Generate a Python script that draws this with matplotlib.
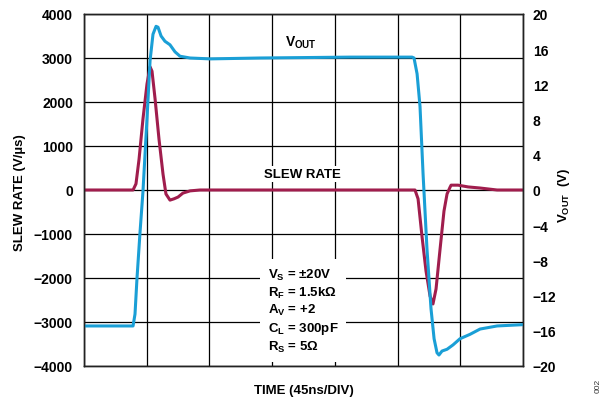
import matplotlib
matplotlib.use('Agg')
import matplotlib.pyplot as plt

plt.rcParams['font.family'] = ['Liberation Sans', 'DejaVu Sans']
plt.rcParams['font.weight'] = 'bold'
plt.rcParams['mathtext.fontset'] = 'custom'
plt.rcParams['mathtext.rm'] = 'Liberation Sans:bold'
plt.rcParams['mathtext.bf'] = 'Liberation Sans:bold'
plt.rcParams['mathtext.it'] = 'Liberation Sans:bold'

# time in ns (45 ns per division, 7 divisions)
vout_t = [0, 35.2, 36.6, 38.0, 40.2, 42.3, 45.2, 47.4, 49.5, 51.7, 53.1, 55.3, 58.1,
          61.7, 65.3, 68.9, 76.1, 90.4, 126.3, 190.9, 235.4, 236.8, 239.0, 241.1,
          243.3, 246.1, 249.0, 251.2, 253.3, 254.7, 256.9, 260.5, 264.8, 269.8,
          277.0, 284.2, 296.4, 315]
vout_v = [-15.45, -15.45, -14.1, -10.1, -4.8, -0.2, 8.1, 14.7, 17.7, 18.6, 18.5, 17.5,
          16.9, 16.5, 15.7, 15.2, 15.0, 14.9, 15.0, 15.1, 15.1, 15.0, 13.2, 9.5, 1.8,
          -6.7, -13.5, -16.9, -18.5, -18.75, -18.3, -18.1, -17.6, -16.9, -16.4,
          -15.8, -15.45, -15.3]

slew_t = [0, 35.2, 37.3, 39.5, 42.3, 45.2, 47.4, 48.8, 51.0, 53.8, 56.7, 58.8, 61.7,
          64.6, 67.5, 71.0, 76.1, 83.2, 237.5, 239.7, 242.5, 245.4, 248.3, 250.4,
          252.6, 255.5, 258.3, 260.5, 262.6, 263.4, 268.4, 275.6, 284.2, 296.4, 315]
slew_v = [0, 0, 140, 700, 1610, 2410, 2800, 2700, 2070, 1160, 360, -90, -230,
          -200, -160, -70, -20, 0, 0, -200, -1045, -1840, -2410, -2590,
          -2250, -1340, -480, -90, 60, 110, 110, 70, 45, 0, 0]

left_ticks = [-4000, -3000, -2000, -1000, 0, 1000, 2000, 3000, 4000]
right_ticks = [-20, -16, -12, -8, -4, 0, 4, 8, 12, 16, 20]
time_grid = [0, 45, 90, 135, 180, 225, 270, 315]

conditions = ('$\\mathbf{V_S}$ = ±20V\n$\\mathbf{R_F}$ = 1.5kΩ\n'
              '$\\mathbf{A_V}$ = +2\n$\\mathbf{C_L}$ = 300pF\n$\\mathbf{R_S}$ = 5Ω')

BLUE = '#1A9FD6'
RED = '#A01D4D'

fig = plt.figure(figsize=(6.07, 4.02), dpi=100)
ax = fig.add_axes([84 / 607, 1 - 367 / 402, 439 / 607, 352 / 402])
ax2 = ax.twinx()

ax.plot(slew_t, slew_v, color=RED, linewidth=2.2, solid_capstyle='round',
        solid_joinstyle='round')
ax2.plot(vout_t, vout_v, color=BLUE, linewidth=2.2, solid_capstyle='round',
         solid_joinstyle='round')

ax.set_xlim(0, 315)
ax.set_ylim(-4000, 4000)
ax2.set_ylim(-20, 20)
ax.set_xticks(time_grid)
ax.set_yticks(left_ticks)
ax2.set_yticks(right_ticks)
ax.set_xticklabels([])
ax.grid(True, color='black', linewidth=0.9)
ax.set_axisbelow(True)

ax.tick_params(axis='both', length=0, labelsize=10, pad=8)
ax2.tick_params(axis='y', length=0, labelsize=10, pad=7)
for spine in list(ax.spines.values()) + list(ax2.spines.values()):
    spine.set_linewidth(1.0)
    spine.set_color('#222222')

# labels
fig.text(20 / 607, 1 - 193 / 402, 'SLEW RATE (V/µs)', rotation=90,
         ha='center', va='center', fontsize=9.5, fontweight='bold')
fig.text(564 / 607, 1 - 195 / 402, '$\\mathbf{V_{OUT}}$  (V)', rotation=90,
         ha='center', va='center', fontsize=9.5, fontweight='bold')
fig.text(303.5 / 607, 1 - 391 / 402, 'TIME (45ns/DIV)',
         ha='center', va='center', fontsize=9.5, fontweight='bold')
fig.text(598 / 607, 1 - 386 / 402, '002', rotation=90, ha='center', va='center',
         fontsize=6, fontweight='normal', color='#333333')

ax2.text(156, 16.8, '$\\mathbf{V_{OUT}}$', ha='center', va='center', fontsize=10)
ax2.text(157, 1.8, 'SLEW RATE', ha='center', va='center', fontsize=9.5,
         bbox=dict(facecolor='white', edgecolor='none', pad=1.5))
ax2.text(132, -8.7, conditions, ha='left', va='top', fontsize=9.5,
         linespacing=1.25,
         bbox=dict(facecolor='white', edgecolor='none', boxstyle='square,pad=0.6'))

fig.savefig('out.png', dpi=100)
